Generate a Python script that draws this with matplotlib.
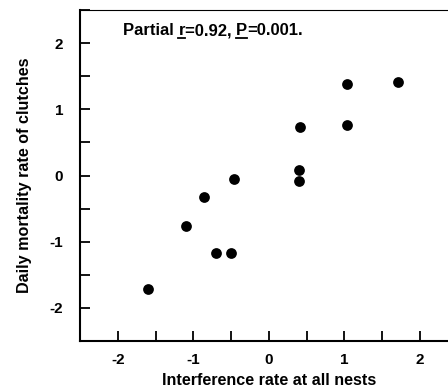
import matplotlib
matplotlib.use("Agg")
import matplotlib.pyplot as plt
from matplotlib.ticker import MultipleLocator
from matplotlib.lines import Line2D

plt.rcParams['font.family'] = ['Liberation Sans', 'DejaVu Sans']

interference = [-1.60, -1.10, -0.86, -0.70, -0.50, -0.46, 0.40, 0.40, 0.42, 1.03, 1.03, 1.71]
mortality = [-1.71, -0.76, -0.32, -1.17, -1.17, -0.05, 0.09, -0.09, 0.74, 1.38, 0.76, 1.41]
xticks = [-2, -1, 0, 1, 2]
yticks = [-2, -1, 0, 1, 2]
annot_parts = ['Partial ', 'r', '=0.92, ', 'P', '=0.001.']
underlined = [False, True, False, True, False]

fig = plt.figure(figsize=(4.48, 3.92), dpi=100)
ax = fig.add_axes([80/448, 51/392, 377.5/448, 331/392])
ax.scatter(interference, mortality, s=60, color='black', zorder=3, linewidths=0)
ax.set_xlim(-2.5, 2.5)
ax.set_ylim(-2.5, 2.5)
ax.set_xticks(xticks)
ax.set_yticks(yticks)
ax.set_xticklabels([str(t) for t in xticks], fontweight='bold', fontsize=11)
ax.set_yticklabels([str(t) for t in yticks], fontweight='bold', fontsize=11)
ax.xaxis.set_minor_locator(MultipleLocator(0.5))
ax.yaxis.set_minor_locator(MultipleLocator(0.5))
ax.tick_params(which='both', direction='in', length=7, width=1.3, top=False, right=False)
ax.tick_params(axis='y', pad=12)
ax.tick_params(axis='x', pad=9)
ax.spines['right'].set_visible(False)
ax.spines['left'].set_linewidth(1.5)
ax.spines['bottom'].set_linewidth(1.5)
ax.spines['top'].set_linewidth(0.8)
ax.set_xlabel('Interference rate at all nests', fontweight='bold', fontsize=11.6, labelpad=4)
ax.set_ylabel('Daily mortality rate of clutches', fontweight='bold', fontsize=11.6, labelpad=13)

fig.canvas.draw()
renderer = fig.canvas.get_renderer()
x0_px, y0_px = 123, 392 - 35
xcur = x0_px
for part, ul in zip(annot_parts, underlined):
    t = fig.text(xcur / 448, y0_px / 392, part, fontweight='bold', fontsize=12,
                 va='baseline', ha='left')
    bb = t.get_window_extent(renderer)
    if ul:
        fig.add_artist(Line2D([bb.x0 / 448, bb.x1 / 448],
                              [(y0_px - 3) / 392, (y0_px - 3) / 392],
                              color='black', linewidth=1.3))
    xcur = bb.x1

fig.savefig('out.png', dpi=100)
